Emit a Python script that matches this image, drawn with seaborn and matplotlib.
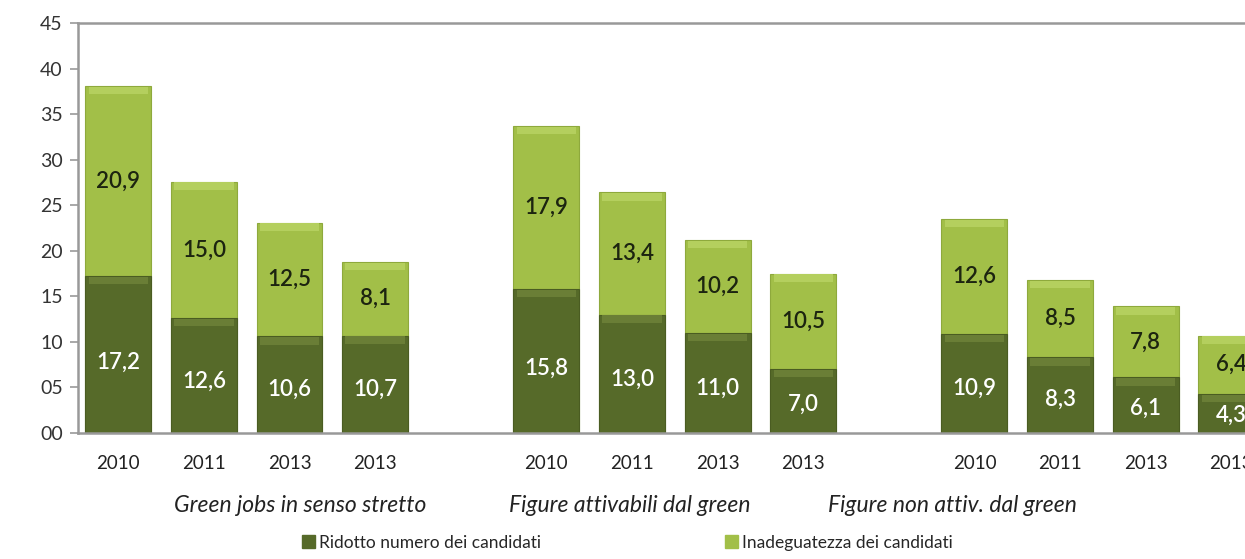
import numpy as np
import pandas as pd
import matplotlib.pyplot as plt
import matplotlib.patches as mpatches
import seaborn as sns

# Data
groups = ["Green jobs in senso stretto", "Figure attivabili dal green", "Figure non attiv. dal green"]
years = ["2010", "2011", "2013", "2013"]
ridotto = [17.2, 12.6, 10.6, 10.7, 15.8, 13.0, 11.0, 7.0, 10.9, 8.3, 6.1, 4.3]
inadeguatezza = [20.9, 15.0, 12.5, 8.1, 17.9, 13.4, 10.2, 10.5, 12.6, 8.5, 7.8, 6.4]
yticks = [0, 5, 10, 15, 20, 25, 30, 35, 40, 45]

dark = "#566a29"
light = "#a2bf48"
dark_hi = "#6a7e36"
light_hi = "#b4cf5e"

sns.set_theme(style="white")
plt.rcParams["font.family"] = ["Lato", "DejaVu Sans"]

# one empty slot between groups
df = pd.DataFrame({
    "group": np.repeat(groups, len(years)),
    "year": years * len(groups),
    "ridotto": ridotto,
    "inad": inadeguatezza,
})
df["pos"] = np.repeat(np.arange(len(groups)) * (len(years) + 1), len(years)) + np.tile(np.arange(len(years)), len(groups))
df["total"] = df["ridotto"] + df["inad"]

fig = plt.figure(figsize=(12.45, 5.59), dpi=100)
ax = fig.add_axes([0.0627, 0.2254, 0.9373, 0.7335])

w = 0.77
sns.barplot(data=df, x="pos", y="total", native_scale=True, width=w, color=light,
            saturation=1, edgecolor="#8ea93c", linewidth=0.8, ax=ax)
sns.barplot(data=df, x="pos", y="ridotto", native_scale=True, width=w, color=dark,
            saturation=1, edgecolor="#4a5c22", linewidth=0.8, ax=ax)

# bevel highlight on top of each segment
ax.bar(df["pos"], 0.8, bottom=df["total"] - 0.9, width=w * 0.9, color=light_hi, linewidth=0)
ax.bar(df["pos"], 0.8, bottom=df["ridotto"] - 0.9, width=w * 0.9, color=dark_hi, linewidth=0)

for _, r in df.iterrows():
    ax.text(r["pos"], r["ridotto"] * 0.45, f"{r['ridotto']:.1f}".replace(".", ","),
            ha="center", va="center", color="white", fontsize=16, fontweight="semibold")
    ax.text(r["pos"], r["ridotto"] + r["inad"] / 2, f"{r['inad']:.1f}".replace(".", ","),
            ha="center", va="center", color="#1c2410", fontsize=16, fontweight="semibold")

ax.set_xlim(-0.47, 13.16)
ax.set_ylim(0, 45)
ax.set_yticks(yticks)
ax.set_yticklabels([f"{t:02d}" for t in yticks], fontsize=14, color="#333333")
ax.set_xticks(df["pos"])
ax.set_xticklabels(df["year"], fontsize=13.5, color="#222222")
ax.tick_params(axis="x", length=0, pad=16)
ax.tick_params(axis="y", length=6, width=1.2, color="#999999", pad=5, left=True)
ax.set_xlabel("")
ax.set_ylabel("")
for s in ["left", "bottom", "top"]:
    ax.spines[s].set_color("#999999")
    ax.spines[s].set_linewidth(1.8)
ax.spines["right"].set_visible(False)

# category group labels
for x, g in zip([0.241, 0.506, 0.765], groups):
    fig.text(x, 0.0966, g, ha="center", va="center", fontsize=16.5, style="italic", color="#222222")

handles = [mpatches.Patch(color=dark, label="Ridotto numero dei candidati"),
           mpatches.Patch(color=light, label="Inadeguatezza dei candidati")]
fig.legend(handles=handles, loc="center", bbox_to_anchor=(0.504, 0.029), ncol=2, frameon=False,
           fontsize=12.5, handlelength=0.75, handleheight=0.75, handletextpad=0.25, columnspacing=10.6)

fig.savefig("out.png", dpi=100)
